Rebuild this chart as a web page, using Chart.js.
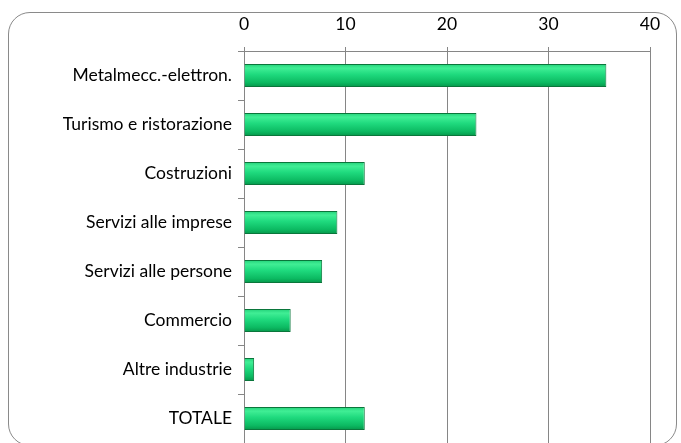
<!DOCTYPE html>
<html lang="it">
<head>
<meta charset="UTF-8">
<title>Settori</title>
<script src="https://cdn.jsdelivr.net/npm/chart.js"></script>
<style>
  html, body { margin: 0; padding: 0; background: #fff; }
  #wrap { position: relative; width: 681px; height: 443px; overflow: hidden; }
  #frame { position: absolute; left: 8px; top: 12px; width: 669px; height: 434px;
           border: 1.5px solid #8a8a8a; border-radius: 22px; box-sizing: border-box; }
  canvas { position: absolute; left: 0; top: 0; }
</style>
</head>
<body>
<div id="wrap">
  <div id="frame"></div>
  <canvas id="chart" width="681" height="443"></canvas>
</div>
<script>
  // categorie e valori
  const settori = [
    "Metalmecc.-elettron.",
    "Turismo e ristorazione",
    "Costruzioni",
    "Servizi alle imprese",
    "Servizi alle persone",
    "Commercio",
    "Altre industrie",
    "TOTALE"
  ];
  const valori = [35.7, 22.9, 11.9, 9.2, 7.7, 4.6, 1.0, 11.9];
  const xTicks = [0, 10, 20, 30, 40];

  const GRID = "#868686";
  const FONT = { family: "Lato", size: 17.5 };
  const ctx = document.getElementById("chart").getContext("2d");

  // gradiente verticale per ogni barra, come l'effetto smussato di Excel
  function barFill(c) {
    const chart = c.chart;
    const y = chart.scales.y;
    if (!chart.chartArea || !y) return "#1fd47a";
    const mid = y.getPixelForValue(c.dataIndex);
    const half = y.height / settori.length * 0.47 / 2;
    if (!isFinite(mid) || !isFinite(half) || half <= 0) return "#1fd47a";
    const g = chart.ctx.createLinearGradient(0, mid - half, 0, mid + half);
    g.addColorStop(0, "#22d078");
    g.addColorStop(0.18, "#40ee95");
    g.addColorStop(0.45, "#1fda7e");
    g.addColorStop(0.8, "#0cba62");
    g.addColorStop(1, "#05964a");
    return g;
  }

  new Chart(ctx, {
    type: "bar",
    data: {
      labels: settori,
      datasets: [{
        data: valori,
        backgroundColor: barFill,
        borderColor: "#0a763b",
        borderWidth: 1,
        borderSkipped: "start",
        barPercentage: 0.47,
        categoryPercentage: 1
      }]
    },
    options: {
      indexAxis: "y",
      responsive: false,
      animation: false,
      layout: { padding: { left: 0, right: 31, top: 0, bottom: 0 } },
      plugins: { legend: { display: false }, tooltip: { enabled: false } },
      scales: {
        x: {
          position: "top",
          min: 0,
          max: 40,
          afterBuildTicks: s => { s.ticks = xTicks.map(v => ({ value: v })); },
          afterFit: s => { s.height = 51; },
          grid: { color: GRID, lineWidth: 1, tickLength: 4 },
          border: { color: GRID, width: 1 },
          ticks: { color: "#000", padding: 12, font: FONT }
        },
        y: {
          afterFit: s => { s.width = 244; s.paddingTop = 0; s.paddingBottom = 0; },
          grid: { offset: true, drawOnChartArea: false, color: GRID, tickLength: 6 },
          border: { color: GRID, width: 1 },
          ticks: { color: "#000", padding: 6, font: FONT }
        }
      }
    }
  });
</script>
</body>
</html>
